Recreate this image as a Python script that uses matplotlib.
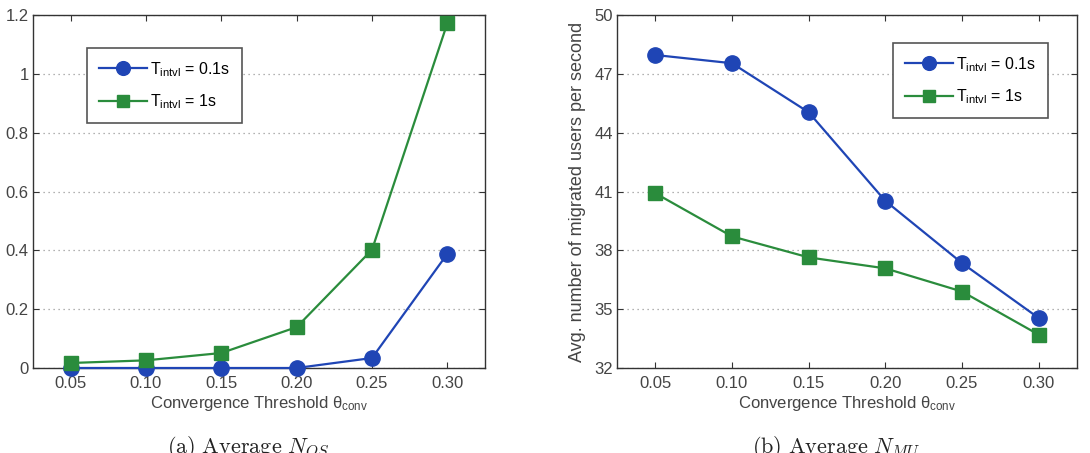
import matplotlib
matplotlib.use("Agg")
import matplotlib.pyplot as plt

# data
theta = [0.05, 0.10, 0.15, 0.20, 0.25, 0.30]
theta_labels = ["0.05", "0.10", "0.15", "0.20", "0.25", "0.30"]

nos_fast = [0.0, 0.0, 0.0, 0.0, 0.034, 0.388]   # T_intvl = 0.1s
nos_slow = [0.017, 0.026, 0.051, 0.139, 0.402, 1.172]  # T_intvl = 1s

nmu_fast = [47.96, 47.54, 45.04, 40.52, 37.35, 34.55]
nmu_slow = [40.91, 38.71, 37.64, 37.08, 35.90, 33.70]

left_yticks = [0, 0.2, 0.4, 0.6, 0.8, 1.0, 1.2]
left_ylabels = ["0", "0.2", "0.4", "0.6", "0.8", "1", "1.2"]
right_yticks = [32, 35, 38, 41, 44, 47, 50]

series_labels = [r"T$_{intvl}$ = 0.1s", r"T$_{intvl}$ = 1s"]

BLUE = "#1f45b5"
GREEN = "#2a8c3c"
TXT = "#444444"
W, H = 1090, 453

plt.rcParams["font.family"] = ["Liberation Sans", "DejaVu Sans"]
plt.rcParams["mathtext.default"] = "regular"

fig = plt.figure(figsize=(W / 100, H / 100), dpi=100)
ax1 = fig.add_axes([33 / W, 1 - 368 / H, 452 / W, 353 / H])
ax2 = fig.add_axes([617 / W, 1 - 368 / H, 460 / W, 353 / H])


def style(ax):
    ax.set_xlim(0.025, 0.325)
    ax.set_xticks(theta)
    ax.set_xticklabels(theta_labels)
    ax.tick_params(direction="in", top=True, right=True, labelsize=12,
                   colors="#333333", labelcolor=TXT, length=4, width=0.8)
    ax.tick_params(axis="x", pad=6)
    ax.tick_params(axis="y", pad=3)
    ax.yaxis.grid(True, ls=(0, (1, 3)), color="#999999", lw=0.9)
    ax.set_axisbelow(True)
    for s in ax.spines.values():
        s.set_color("#333333")
        s.set_linewidth(1.0)
    ax.set_xlabel(r"Convergence Threshold $\theta_{conv}$", fontsize=12,
                  color=TXT, labelpad=2)


for ax, fast, slow in ((ax1, nos_fast, nos_slow), (ax2, nmu_fast, nmu_slow)):
    ax.plot(theta, fast, "-o", color=BLUE, lw=1.6, ms=11,
            label=series_labels[0], clip_on=False, zorder=3)
    ax.plot(theta, slow, "-s", color=GREEN, lw=1.6, ms=9.5,
            label=series_labels[1], clip_on=False, zorder=3)
    style(ax)

leg_kw = dict(fontsize=11.5, fancybox=False, edgecolor="#555555",
              framealpha=1, handlelength=3.0, handletextpad=0.2,
              borderpad=0.75, labelspacing=0.85, borderaxespad=0,
              markerscale=0.9, bbox_transform=fig.transFigure)

ax1.set_ylim(0, 1.2)
ax1.set_yticks(left_yticks)
ax1.set_yticklabels(left_ylabels)
leg1 = ax1.legend(loc="upper left", bbox_to_anchor=(87 / W, 1 - 48 / H),
                  **leg_kw)

ax2.set_ylim(32, 50)
ax2.set_yticks(right_yticks)
ax2.set_ylabel("Avg. number of migrated users per second", fontsize=13,
               color=TXT, labelpad=6)
leg2 = ax2.legend(loc="upper right", bbox_to_anchor=(1048 / W, 1 - 43 / H),
                  **leg_kw)
for leg in (leg1, leg2):
    leg.get_frame().set_linewidth(1.2)

cap = dict(fontsize=16, math_fontfamily="cm", ha="center", va="top",
           color="#222222")
fig.text(248 / W, 1 - 434 / H, r"$\mathrm{(a)\ Average}\ \mathit{N_{OS}}$",
         **cap)
fig.text(836 / W, 1 - 434 / H, r"$\mathrm{(b)\ Average}\ \mathit{N_{MU}}$",
         **cap)

fig.savefig("out.png", dpi=100)
